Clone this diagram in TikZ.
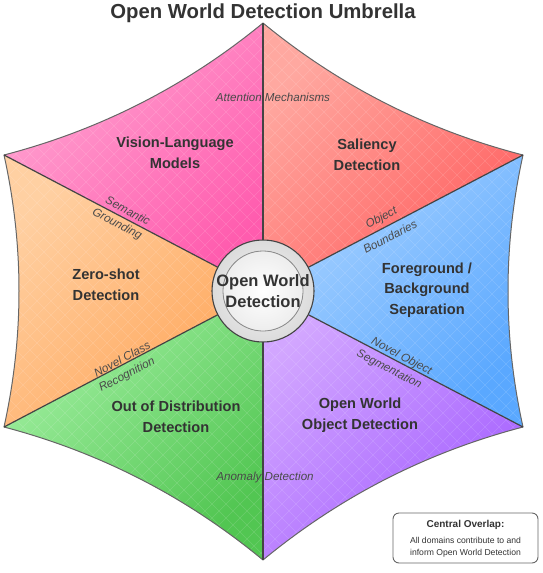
\documentclass[tikz,border=0pt]{standalone}
\usepackage{fontspec}
\setmainfont{Liberation Sans}
\usetikzlibrary{calc}

\definecolor{pinkL}{HTML}{FFA3D1}
\definecolor{pinkD}{HTML}{FF5CAE}
\definecolor{salmonL}{HTML}{FFA8A0}
\definecolor{salmonD}{HTML}{FF6060}
\definecolor{blueL}{HTML}{A8D2FF}
\definecolor{blueD}{HTML}{5AA8FF}
\definecolor{purpleL}{HTML}{D2A6FF}
\definecolor{purpleD}{HTML}{A560FF}
\definecolor{greenL}{HTML}{A2F0A2}
\definecolor{greenD}{HTML}{52C652}
\definecolor{orangeL}{HTML}{FFD0A2}
\definecolor{orangeD}{HTML}{FFA65A}
\definecolor{inkdark}{HTML}{333333}
\definecolor{inklabel}{HTML}{4A4A4A}
\definecolor{spoke}{HTML}{444444}
\definecolor{rim}{HTML}{666666}

\tikzset{
  sector/.style 2 args={top color=#1, bottom color=#2, shading angle=45},
  fieldlabel/.style={align=center, text=inkdark, font=\fontsize{14.6}{20.5}\selectfont\bfseries},
  bridge/.style={text=inklabel, font=\fontsize{11.6}{13}\selectfont\itshape, inner sep=0pt},
  spokeline/.style={draw=spoke, line width=1.2pt},
}

\begin{document}
\begin{tikzpicture}[x=1pt,y=-1pt]
\useasboundingbox (0,0) rectangle (543,573);

% hexagon corners and hub
\coordinate (C)  at (263,291);
\coordinate (T)  at (263,23);
\coordinate (UR) at (523,155);
\coordinate (LR) at (523,427);
\coordinate (B)  at (263,560);
\coordinate (LL) at (4,427);
\coordinate (UL) at (4,155);
% pull points of the concave outer edges
\coordinate (qa) at (148,117.5);
\coordinate (qb) at (378,117.5);
\coordinate (qc) at (493,291);
\coordinate (qd) at (378,465);
\coordinate (qe) at (148,465);
\coordinate (qf) at (34,291);

% six sectors
\shade[sector={pinkL}{pinkD}] (C) -- (UL)
  .. controls ($(UL)!0.6667!(qa)$) and ($(T)!0.6667!(qa)$) .. (T) -- cycle;
\shade[sector={salmonL}{salmonD}] (C) -- (T)
  .. controls ($(T)!0.6667!(qb)$) and ($(UR)!0.6667!(qb)$) .. (UR) -- cycle;
\shade[sector={blueL}{blueD}] (C) -- (UR)
  .. controls ($(UR)!0.6667!(qc)$) and ($(LR)!0.6667!(qc)$) .. (LR) -- cycle;
\shade[sector={purpleL}{purpleD}] (C) -- (LR)
  .. controls ($(LR)!0.6667!(qd)$) and ($(B)!0.6667!(qd)$) .. (B) -- cycle;
\shade[sector={greenL}{greenD}] (C) -- (B)
  .. controls ($(B)!0.6667!(qe)$) and ($(LL)!0.6667!(qe)$) .. (LL) -- cycle;
\shade[sector={orangeL}{orangeD}] (C) -- (LL)
  .. controls ($(LL)!0.6667!(qf)$) and ($(UL)!0.6667!(qf)$) .. (UL) -- cycle;

% faint diamond texture over the umbrella
\begin{scope}
  \clip (T)
    .. controls ($(T)!0.6667!(qb)$) and ($(UR)!0.6667!(qb)$) .. (UR)
    .. controls ($(UR)!0.6667!(qc)$) and ($(LR)!0.6667!(qc)$) .. (LR)
    .. controls ($(LR)!0.6667!(qd)$) and ($(B)!0.6667!(qd)$) .. (B)
    .. controls ($(B)!0.6667!(qe)$) and ($(LL)!0.6667!(qe)$) .. (LL)
    .. controls ($(LL)!0.6667!(qf)$) and ($(UL)!0.6667!(qf)$) .. (UL)
    .. controls ($(UL)!0.6667!(qa)$) and ($(T)!0.6667!(qa)$) .. (T) -- cycle;
  \foreach \i in {-600,-586,...,1150} {
    \draw[white, opacity=0.14, line width=0.6pt] (\i,0) -- ++(600,600);
    \draw[white, opacity=0.14, line width=0.6pt] (\i,0) -- ++(-600,600);
  }
\end{scope}

% outer rim
\draw[rim, line width=1pt, line join=round] (T)
  .. controls ($(T)!0.6667!(qb)$) and ($(UR)!0.6667!(qb)$) .. (UR)
  .. controls ($(UR)!0.6667!(qc)$) and ($(LR)!0.6667!(qc)$) .. (LR)
  .. controls ($(LR)!0.6667!(qd)$) and ($(B)!0.6667!(qd)$) .. (B)
  .. controls ($(B)!0.6667!(qe)$) and ($(LL)!0.6667!(qe)$) .. (LL)
  .. controls ($(LL)!0.6667!(qf)$) and ($(UL)!0.6667!(qf)$) .. (UL)
  .. controls ($(UL)!0.6667!(qa)$) and ($(T)!0.6667!(qa)$) .. (T) -- cycle;

% spokes
\draw[spokeline] (C) -- (T);
\draw[spokeline] (C) -- (UR);
\draw[spokeline] (C) -- (LR);
\draw[spokeline] (C) -- (B);
\draw[spokeline] (C) -- (LL);
\draw[spokeline] (C) -- (UL);

% hub
\fill[inner color=black!4, outer color=black!14] (C) circle[radius=51];
\draw[spoke, line width=1.1pt] (C) circle[radius=51];
\fill[inner color=white, outer color=black!7] (C) circle[radius=40];
\draw[black!45, line width=0.8pt] (C) circle[radius=40];
\node[align=center, text=inkdark, font=\fontsize{16.5}{21}\selectfont\bfseries]
  (hub) at (263,291) {Open World\\Detection};

% title
\node[text=inkdark, font=\fontsize{20.3}{23}\selectfont\bfseries] (title) at (263,13)
  {Open World Detection Umbrella};

% field labels
\node[fieldlabel] (vlm)  at (175,153) {Vision-Language\\Models};
\node[fieldlabel] (sal)  at (367,155) {Saliency\\Detection};
\node[fieldlabel] (fbs)  at (427,290) {Foreground /\\Background\\Separation};
\node[fieldlabel] (owod) at (360,415) {Open World\\Object Detection};
\node[fieldlabel] (ood)  at (176,417) {Out of Distribution\\Detection};
\node[fieldlabel] (zsd)  at (106,285) {Zero-shot\\Detection};

% bridging concepts along the spokes
\node[bridge] (att) at (273,97) {Attention Mechanisms};
\node[bridge, rotate=-27.7] (sem1) at (128,210.5) {Semantic};
\node[bridge, rotate=-27.7] (sem2) at (117,224.5) {Grounding};
\node[bridge, rotate=27.7] (obj1) at (381.5,218.5) {Object};
\node[bridge, rotate=27.7] (obj2) at (390,236.5) {Boundaries};
\node[bridge, rotate=27.7] (ncr1) at (122,359) {Novel Class};
\node[bridge, rotate=27.7] (ncr2) at (127,375) {Recognition};
\node[bridge, rotate=-27.7] (nos1) at (401.5,356.5) {Novel Object};
\node[bridge, rotate=-27.7] (nos2) at (389,369.5) {Segmentation};
\node[bridge] (anom) at (265,477) {Anomaly Detection};

% legend
\draw[rim, line width=0.9pt, fill=white, rounded corners=6pt] (393,513) rectangle (538,563);
\node[text=inkdark, font=\fontsize{10}{12}\selectfont\bfseries] (legtitle) at (465.5,524.5) {Central Overlap:};
\node[text=inkdark, align=center, font=\fontsize{8.6}{11.5}\selectfont] (legbody) at (465.5,547.5)
  {All domains contribute to and\\inform Open World Detection};
\end{tikzpicture}
\end{document}
